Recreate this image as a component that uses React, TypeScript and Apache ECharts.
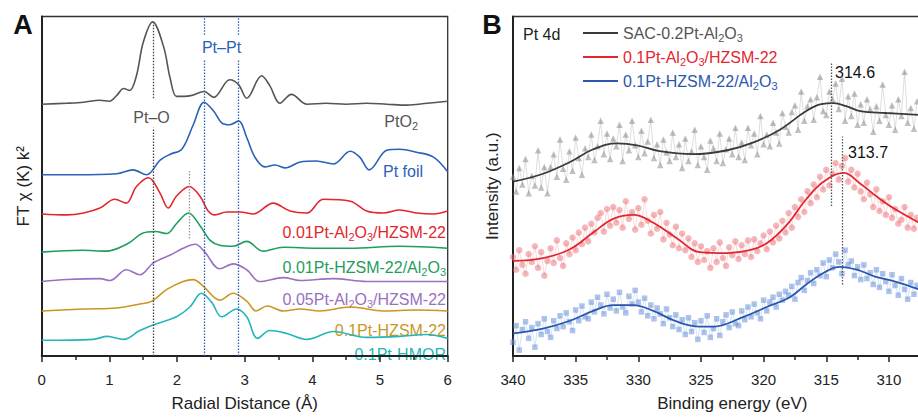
import React, { useEffect, useRef } from "react";
import * as echarts from "echarts";

const FONT = '"Liberation Sans", Arial, Helvetica, sans-serif';
const NARROW = '"Liberation Sans Narrow", "Arial Narrow", "Liberation Sans", Arial, sans-serif';

// ---------- Panel A: FT-EXAFS, radial distance (Å) vs offset magnitude (a.u.) ----------
const A_PTO2 = [[0,257],[0.37,258],[0.62,259],[0.86,261],[1.0,260],[1.11,266],[1.21,273],[1.30,271],[1.40,286],[1.50,320],[1.64,341],[1.80,316],[1.90,283],[1.99,265],[2.10,265],[2.22,266],[2.40,270],[2.54,264],[2.78,282],[2.91,277],[3.03,263],[3.25,286],[3.37,276],[3.52,258],[3.69,267],[3.92,257],[4.2,258],[4.5,257],[4.8,258],[5.1,257],[5.4,256],[5.7,258],[6.0,260]];
const A_PTFOIL = [[0,185],[0.5,185],[1.11,186],[1.35,190],[1.55,185],[1.75,200],[1.90,206],[2.07,211],[2.24,236],[2.40,259],[2.54,250],[2.66,238],[2.78,236],[2.91,240],[3.03,223],[3.15,203],[3.30,193],[3.45,195],[3.60,192],[3.82,198],[4.06,199],[4.31,196],[4.56,209],[4.70,203],[4.84,190],[5.10,210],[5.29,211],[5.54,208],[5.79,203],[6.0,188]];
const A_RED = [[0,145],[0.37,144],[0.62,146],[0.86,151],[1.08,160],[1.25,156],[1.40,173],[1.58,182],[1.75,166],[1.87,151],[1.99,163],[2.18,173],[2.34,163],[2.46,148],[2.56,144],[2.73,147],[2.93,147],[3.13,145],[3.42,156],[3.67,148],[3.92,146],[4.16,160],[4.56,158],[4.80,148],[5.05,146],[5.29,149],[5.54,146],[5.79,145],[6.0,148]];
const A_GREEN = [[0,106],[0.6,108],[0.95,107],[1.28,115],[1.48,125],[1.68,127],[1.85,125],[1.99,135],[2.17,146],[2.34,133],[2.49,118],[2.63,113],[2.83,112],[3.03,117],[3.27,107],[3.57,111],[4.06,110],[4.56,110],[5.29,112],[6.0,110]];
const A_PURPLE = [[0,76],[0.37,78],[0.86,79],[1.01,77],[1.25,88],[1.45,83],[1.65,95],[1.90,103],[2.09,110],[2.27,114],[2.41,106],[2.63,89],[2.83,94],[3.03,88],[3.22,76],[3.57,80],[3.82,77],[4.31,79],[4.80,76],[6.0,76]];
const A_GOLD = [[0,46],[0.62,48],[1.11,49],[1.45,53],[1.63,56],[1.85,68],[2.09,76],[2.24,78],[2.39,71],[2.63,57],[2.83,64],[3.03,56],[3.17,46],[3.33,51],[3.57,46],[3.82,48],[4.11,46],[4.56,50],[5.05,46],[5.54,47],[6.0,46]];
const A_CYAN = [[0,16],[0.76,17],[0.97,20],[1.21,17],[1.45,26],[1.70,33],[1.99,40],[2.19,50],[2.36,64],[2.51,55],[2.66,40],[2.88,48],[3.03,40],[3.19,18],[3.37,26],[3.62,23],[3.92,17],[4.31,25],[4.80,19],[5.29,20],[5.69,22],[6.0,18]];

const A_CURVES = [A_PTO2, A_PTFOIL, A_RED, A_GREEN, A_PURPLE, A_GOLD, A_CYAN];
const A_NAMES = ["PtO2", "Pt foil", "0.01Pt-Al2O3/HZSM-22", "0.01Pt-HZSM-22/Al2O3", "0.05Pt-Al2O3/HZSM-22", "0.1Pt-HZSM-22", "0.1Pt-HMOR"];
const A_COLORS = ["#555555", "#2a62b8", "#e3262e", "#1f9d5c", "#9a70c2", "#c9971f", "#25b6b8"];
const A_XTICKS = [0, 6, 1];
const A_PT_O = 1.645;
const A_PT_PT = [2.403, 2.911];
const A_EXTRA = 2.18;

// ---------- Panel B: Pt 4d XPS, binding energy (eV) vs offset intensity (a.u.) ----------
const B_START = 340;
const B_STEP = 0.25;
const B_SAC_PTS = [183,168,192,175,201,166,184,174,210,172,193,166,193,206,183,221,191,180,209,189,223,202,185,212,203,226,200,214,240,206,227,201,222,214,236,199,226,210,240,215,203,230,207,219,241,202,216,195,221,208,199,228,203,216,192,222,199,209,231,195,214,203,190,220,212,199,227,197,211,222,206,233,203,218,200,233,215,227,206,245,216,226,214,238,228,217,248,234,228,249,256,231,270,240,255,262,241,264,285,250,246,270,262,278,252,283,240,265,245,268,236,257,238,262,252,229,255,240,277,246,236,256,231,262,245,290,238,253,232,260];
const B_RED_PTS = [101,88,108,93,84,104,96,112,90,106,82,97,110,95,118,100,92,115,104,121,108,126,114,131,117,135,126,141,146,127,150,133,152,136,149,131,158,140,147,129,151,134,160,138,125,144,130,147,119,136,124,113,132,110,125,108,120,101,115,96,112,98,107,90,110,96,116,100,92,111,103,117,99,113,104,118,101,119,107,115,123,109,127,116,133,120,138,126,146,131,152,142,160,147,168,156,175,162,183,170,190,174,186,197,180,194,202,178,190,172,186,168,160,177,165,152,170,148,158,144,162,141,150,135,139,152,131,144,130,141];
const B_BLUE_PTS = [14,31,6,27,35,18,29,9,33,22,38,25,19,36,28,41,30,44,35,26,47,36,51,40,38,55,45,60,52,43,63,49,58,46,65,50,44,61,53,67,55,45,59,41,52,38,49,43,33,48,39,30,42,27,37,22,39,25,34,17,36,24,41,19,28,38,21,35,42,29,45,33,31,46,37,50,40,53,44,38,57,46,55,60,50,63,57,66,62,71,58,75,80,67,77,85,74,88,82,95,81,98,90,104,96,84,108,93,97,82,91,78,93,79,85,73,88,70,84,76,66,83,72,62,79,68,58,75,63,72];
const B_SAC_FIT = [[340,178],[337.6,186],[335.45,198],[333.6,211],[331.7,217],[330.1,215],[328.3,209],[325.6,206],[322.9,210],[320.8,218],[318.7,231],[316.6,250],[315.4,257],[314.4,258],[313.4,255],[312.3,250],[310.2,248],[307.6,246]];
const B_RED_FIT = [[340,97],[337.6,100],[335.45,109],[333.6,126],[332,140],[330.4,144],[328.8,136],[326.9,120],[325.1,106],[322.9,105],[321.1,108],[319.75,115],[318.2,133],[316.6,160],[315.2,178],[313.6,187],[312.3,176],[311,163],[309.65,151],[307.6,136]];
const B_BLUE_FIT = [[340,23],[337.6,28],[335.45,36],[333.6,46],[332,52],[330.4,52],[328.8,46],[326.9,35],[325.1,30],[324,30],[321.6,40],[319.75,50],[317.9,60],[316.6,73],[315.2,85],[313.9,91],[312.3,87],[311.1,81],[309.5,76],[307.6,68]];
const B_NAMES = ["SAC-0.2Pt-Al2O3", "0.1Pt-Al2O3/HZSM-22", "0.1Pt-HZSM-22/Al2O3"];
const B_FIT_COLORS = ["#3a3a3a", "#e3262e", "#2a57ad"];
const B_PT_COLORS = ["rgba(140,140,140,0.55)", "rgba(236,110,116,0.5)", "rgba(105,145,218,0.55)"];
const B_LINK_COLORS = ["rgba(150,150,150,0.45)", "rgba(236,120,126,0.4)", "rgba(110,150,220,0.4)"];
const B_SYMBOLS = ["triangle", "circle", "rect"];
const B_PEAKS = [314.6, 313.7];
const B_XRANGE = [305, 340, 5];

const Y_MAX = 346.5;

function txt(x: number, y: number, text: string, color: string, align = "left", size = 16, extra: any = {}) {
  return {
    type: "text",
    x,
    y,
    silent: true,
    style: {
      text,
      fill: color,
      fontSize: size,
      fontFamily: FONT,
      align,
      verticalAlign: "middle",
      rich: {
        s: { fill: color, fontSize: Math.round(size * 0.68), fontFamily: FONT, padding: [9, 0, 0, 0] },
      },
      ...extra,
    },
  };
}

function buildOption() {
  const axisLine = { show: true, onZero: false, lineStyle: { color: "#222", width: 2 } };
  const tickStyle = { color: "#222", width: 1.5 };
  const labelStyle = { fontSize: 15, color: "#222", fontFamily: FONT, margin: 16 };
  const nameStyle = { fontSize: 17, color: "#222", fontFamily: FONT };

  const aSeries: any[] = A_CURVES.map((d, i) => ({
    type: "line",
    name: A_NAMES[i],
    xAxisIndex: 0,
    yAxisIndex: 0,
    data: d,
    smooth: 0.35,
    showSymbol: false,
    lineStyle: { color: A_COLORS[i], width: 1.6 },
    z: 3,
  }));
  const dot = (color: string) => ({ color, width: 1.3, type: [1.5, 1.5] as any });
  aSeries[0].markLine = {
    silent: true,
    symbol: "none",
    label: { show: false },
    animation: false,
    data: [
      [{ coord: [A_PT_O, 263], lineStyle: dot("#444") }, { coord: [A_PT_O, 341] }],
      [{ coord: [A_PT_O, 0], lineStyle: dot("#444") }, { coord: [A_PT_O, 233] }],
      [{ coord: [A_EXTRA, 120], lineStyle: dot("#999") }, { coord: [A_EXTRA, 190] }],
      ...A_PT_PT.flatMap((r) => [
        [{ coord: [r, 0], lineStyle: dot("#2a62b8") }, { coord: [r, 303] }],
        [{ coord: [r, 328], lineStyle: dot("#2a62b8") }, { coord: [r, Y_MAX] }],
      ]),
    ],
  };

  const bSeries: any[] = [];
  const pts = [B_SAC_PTS, B_RED_PTS, B_BLUE_PTS];
  const fits = [B_SAC_FIT, B_RED_FIT, B_BLUE_FIT];
  pts.forEach((p, i) => {
    bSeries.push({
      type: "line",
      name: B_NAMES[i] + " data",
      xAxisIndex: 1,
      yAxisIndex: 1,
      data: p.map((v, k) => [B_START - B_STEP * k, v]),
      symbol: B_SYMBOLS[i],
      symbolSize: i === 2 ? 5.5 : 6.5,
      showSymbol: true,
      itemStyle: { color: B_PT_COLORS[i], borderWidth: 0 },
      lineStyle: { color: B_LINK_COLORS[i], width: 0.7 },
      z: 2,
    });
  });
  fits.forEach((f, i) => {
    bSeries.push({
      type: "line",
      name: B_NAMES[i],
      xAxisIndex: 1,
      yAxisIndex: 1,
      data: f,
      smooth: 0.4,
      showSymbol: false,
      lineStyle: { color: B_FIT_COLORS[i], width: 1.8 },
      z: 4,
    });
  });
  bSeries[3].markLine = {
    silent: true,
    symbol: "none",
    label: { show: false },
    animation: false,
    data: [
      [{ coord: [B_PEAKS[0], 153], lineStyle: dot("#555") }, { coord: [B_PEAKS[0], 300] }],
      [{ coord: [B_PEAKS[1], 73], lineStyle: dot("#555") }, { coord: [B_PEAKS[1], 224] }],
    ],
  };

  const legendRows = [33, 57, 81];
  const legendTexts = ["SAC-0.2Pt-Al{s|2}O{s|3}", "0.1Pt-Al{s|2}O{s|3}/HZSM-22", "0.1Pt-HZSM-22/Al{s|2}O{s|3}"];
  const legendTextColors = ["#555555", "#e3262e", "#2a57ad"];

  const graphics: any[] = [
    txt(23, 25, "A", "#111", "center", 27, { fontWeight: "bold", fontFamily: NARROW }),
    txt(492, 25, "B", "#111", "center", 27, { fontWeight: "bold", fontFamily: NARROW }),
    txt(151.5, 117.5, "Pt–O", "#555555", "center"),
    txt(221.5, 47.5, "Pt–Pt", "#2a62b8", "center"),
    txt(418, 121, "PtO{s|2}", "#555555", "right"),
    txt(423, 171, "Pt foil", "#2a62b8", "right"),
    txt(446, 232, "0.01Pt-Al{s|2}O{s|3}/HZSM-22", A_COLORS[2], "right"),
    txt(446, 267, "0.01Pt-HZSM-22/Al{s|2}O{s|3}", A_COLORS[3], "right"),
    txt(446, 299, "0.05Pt-Al{s|2}O{s|3}/HZSM-22", A_COLORS[4], "right"),
    txt(446, 330, "0.1Pt-HZSM-22", A_COLORS[5], "right"),
    txt(446, 354, "0.1Pt-HMOR", A_COLORS[6], "right"),
    txt(523, 34, "Pt 4d", "#222", "left"),
    txt(835, 72, "314.6", "#111", "left"),
    txt(848, 152, "313.7", "#111", "left"),
  ];
  legendRows.forEach((y, i) => {
    graphics.push({
      type: "line",
      silent: true,
      shape: { x1: 583, y1: y, x2: 618, y2: y },
      style: { stroke: B_FIT_COLORS[i], lineWidth: 1.8 },
    });
    graphics.push(txt(623, y, legendTexts[i], legendTextColors[i], "left"));
  });

  return {
    animation: false,
    backgroundColor: "#fff",
    textStyle: { fontFamily: FONT },
    grid: [
      { left: 41.7, top: 16.5, width: 406, height: Y_MAX, show: true, borderColor: "#333", borderWidth: 1.3, backgroundColor: "transparent" },
      { left: 513, top: 16.5, width: (B_XRANGE[1] - B_XRANGE[0]) * 12.53, height: Y_MAX, show: true, borderColor: "#333", borderWidth: 1.3, backgroundColor: "transparent" },
    ],
    xAxis: [
      {
        gridIndex: 0,
        type: "value",
        min: A_XTICKS[0],
        max: A_XTICKS[1],
        interval: A_XTICKS[2],
        axisLine,
        axisTick: { show: true, length: 6, lineStyle: tickStyle },
        minorTick: { show: true, splitNumber: 2, length: 4, lineStyle: tickStyle },
        axisLabel: labelStyle,
        splitLine: { show: false },
        minorSplitLine: { show: false },
        name: "Radial Distance (Å)",
        nameLocation: "middle",
        nameGap: 39,
        nameTextStyle: nameStyle,
      },
      {
        gridIndex: 1,
        type: "value",
        inverse: true,
        min: B_XRANGE[0],
        max: B_XRANGE[1],
        interval: B_XRANGE[2],
        axisLine,
        axisTick: { show: true, length: 6, lineStyle: tickStyle },
        minorTick: { show: true, splitNumber: 2, length: 4, lineStyle: tickStyle },
        axisLabel: { ...labelStyle, showMinLabel: false },
        splitLine: { show: false },
        minorSplitLine: { show: false },
        name: "Binding energy (eV)",
        nameLocation: "middle",
        nameGap: 39,
        nameTextStyle: nameStyle,
      },
    ],
    yAxis: [
      {
        gridIndex: 0,
        type: "value",
        min: 0,
        max: Y_MAX,
        axisLine,
        axisTick: { show: false },
        axisLabel: { show: false },
        splitLine: { show: false },
        name: "FT χ (K) k²",
        nameLocation: "middle",
        nameGap: 10,
        nameTextStyle: nameStyle,
      },
      {
        gridIndex: 1,
        type: "value",
        min: 0,
        max: Y_MAX,
        axisLine,
        axisTick: { show: false },
        axisLabel: { show: false },
        splitLine: { show: false },
        name: "Intensity (a.u.)",
        nameLocation: "middle",
        nameGap: 12,
        nameTextStyle: nameStyle,
      },
    ],
    series: [...aSeries, ...bSeries],
    graphic: graphics,
  };
}

export default function App() {
  const ref = useRef<HTMLDivElement>(null);
  useEffect(() => {
    if (!ref.current) return;
    const chart = echarts.init(ref.current, null, { renderer: "svg" });
    chart.setOption(buildOption() as any);
    return () => chart.dispose();
  }, []);
  return (
    <div
      ref={ref}
      style={{ position: "fixed", left: 0, top: 0, width: 970, height: 417, background: "#fff" }}
    />
  );
}
